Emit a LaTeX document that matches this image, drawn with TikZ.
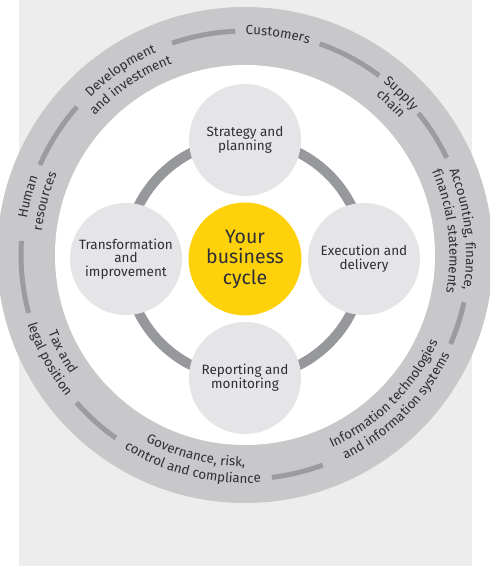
\documentclass[tikz,border=0pt]{standalone}
\usepackage{fontspec}
\setmainfont{Fira Sans}
\usetikzlibrary{decorations.text}
\definecolor{bg}{HTML}{EDEDED}
\definecolor{ringgray}{HTML}{C8C8CA}
\definecolor{seggray}{HTML}{9B9C9F}
\definecolor{cycgray}{HTML}{97989C}
\definecolor{bub}{HTML}{E5E5E7}
\definecolor{eyyel}{HTML}{FDD20A}
\definecolor{ink}{HTML}{2E2E38}
\newcommand\labfont{\fontsize{13.3}{14}\selectfont\color{ink}}
\newcommand\seg[2]{\draw[segstyle] (245,312) ++(#1:224pt) arc[start angle=#1,end angle=#2,radius=224pt];}
\newcommand\toplab[3]{%
  \pgfmathsetmacro\labsa{#1+60}\pgfmathsetmacro\labea{#1-60}%
  \path[shift={(245,312)},decorate,decoration={text along path,text align=center,text={|\labfont|#3}}]
    (\labsa:#2pt) arc[start angle=\labsa,end angle=\labea,radius=#2pt];}
\newcommand\botlab[3]{%
  \pgfmathsetmacro\labsa{#1-60}\pgfmathsetmacro\labea{#1+60}%
  \path[shift={(245,312)},decorate,decoration={text along path,text align=center,text={|\labfont|#3}}]
    (\labsa:#2pt) arc[start angle=\labsa,end angle=\labea,radius=#2pt];}
\begin{document}
\begin{tikzpicture}[x=1pt,y=1pt,
  segstyle/.style={seggray,line width=5pt},
  bubble/.style={circle,fill=bub,minimum size=112pt,inner sep=0pt,align=center,text=ink,font=\fontsize{13.5}{13.8}\selectfont},
  core/.style={circle,fill=eyyel,minimum size=113pt,inner sep=0pt,align=center,text=ink,font=\fontsize{19.5}{20.5}\selectfont}]
\useasboundingbox (0,0) rectangle (490,567);
\clip (0,0) rectangle (490,567);
\fill[bg] (19,1) rectangle (472,567);
\fill[ringgray] (245,312) circle[radius=248pt];
\fill[white] (245,312) circle[radius=190pt];
\seg{92.5}{109}
\seg{53.2}{70.5}
\seg{25.7}{39.3}
\seg{-23.4}{-12.2}
\seg{-83.1}{-69.7}
\seg{221.2}{234.8}
\seg{176.4}{195}
\seg{138.6}{156.3}
\draw[cycgray,line width=10pt] (245,308) circle[radius=119pt];
\node[bubble] (strat) at (245,427) {Strategy and\\planning};
\node[bubble] (exec) at (364,308) {Execution and\\delivery};
\node[bubble] (rep) at (245,189) {Reporting and\\monitoring};
\node[bubble] (trans) at (126,308) {Transformation\\and\\improvement};
\node[core] (core) at (245,308) {Your\\business\\cycle};
\toplab{81.5}{220.5}{Customers}
\toplab{46}{221}{Supply}
\toplab{46}{206}{chain}
\toplab{6.7}{221}{Accounting, finance,}
\toplab{6.7}{204.5}{financial statements}
\toplab{165}{221}{Human}
\toplab{165}{204.5}{resources}
\toplab{124}{221}{Development}
\toplab{124}{204.5}{and investment}
\botlab{-45}{211.5}{Information technologies}
\botlab{-45}{228}{and information systems}
\botlab{-104}{211.5}{Governance, risk,}
\botlab{-104}{228}{control and compliance}
\botlab{208}{211.5}{Tax and}
\botlab{208}{228}{legal position}
\end{tikzpicture}
\end{document}
